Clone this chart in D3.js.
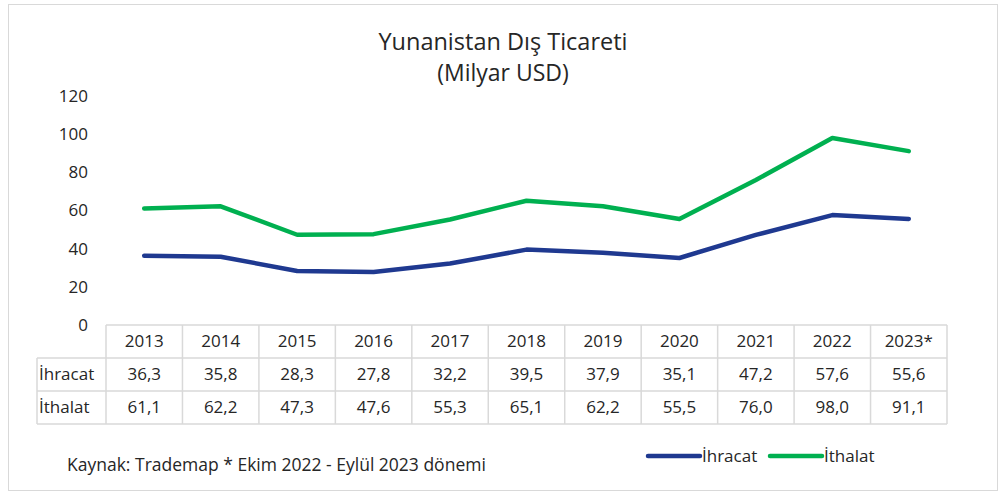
<!DOCTYPE html>
<html>
<head>
<meta charset="utf-8">
<script src="https://cdn.jsdelivr.net/npm/d3@7"></script>
<style>
  body { margin: 0; background: #fff; }
  text { font-family: "Open Sans", Lato, sans-serif; fill: #262626; }
</style>
</head>
<body>
<div id="chart"></div>
<script>
// data
var years = ['2013', '2014', '2015', '2016', '2017', '2018', '2019', '2020', '2021', '2022', '2023*'];
var ihracat = [36.3, 35.8, 28.3, 27.8, 32.2, 39.5, 37.9, 35.1, 47.2, 57.6, 55.6];
var ithalat = [61.1, 62.2, 47.3, 47.6, 55.3, 65.1, 62.2, 55.5, 76.0, 98.0, 91.1];
var yTicks = [0, 20, 40, 60, 80, 100, 120];
var seriesNames = ['İhracat', 'İthalat'];
var colors = ['#1f3990', '#00b050'];

var w = 1005, h = 493;
var svg = d3.select('#chart').append('svg')
  .attr('width', w)
  .attr('height', h);

// outer frame
svg.append('rect')
  .attr('x', 8.5).attr('y', 4.5)
  .attr('width', 989).attr('height', 486)
  .attr('fill', 'none')
  .attr('stroke', '#d9d9d9');

svg.append('text').attr('x', 503).attr('y', 50)
  .attr('text-anchor', 'middle').attr('font-size', '23.5px')
  .text('Yunanistan Dış Ticareti');
svg.append('text').attr('x', 503).attr('y', 81)
  .attr('text-anchor', 'middle').attr('font-size', '23px')
  .text('(Milyar USD)');

var x = d3.scaleBand().domain(years).range([106, 947]);
var y = d3.scaleLinear().domain([0, 120]).range([325, 96]);
var cx = function(d) { return x(d) + x.bandwidth() / 2; };

// y axis labels (no line, no gridlines)
svg.selectAll('.ytick')
  .data(yTicks)
  .enter()
  .append('text')
  .attr('class', 'ytick')
  .attr('x', 88)
  .attr('y', function(d) { return y(d); })
  .attr('dy', '0.35em')
  .attr('text-anchor', 'end')
  .attr('font-size', '17px')
  .text(function(d) { return d; });

// lines
var line = d3.line()
  .x(function(d, i) { return cx(years[i]); })
  .y(function(d) { return y(d); });

[ihracat, ithalat].forEach(function(s, i) {
  svg.append('path')
    .datum(s)
    .attr('d', line)
    .attr('fill', 'none')
    .attr('stroke', colors[i])
    .attr('stroke-width', 4.5)
    .attr('stroke-linejoin', 'round')
    .attr('stroke-linecap', 'round');
});

// data table
var rowTop = 325, rowH = 33, labelLeft = 37;
var grid = svg.append('g')
  .attr('stroke', '#d9d9d9')
  .attr('stroke-width', 1.5)
  .attr('fill', 'none');

// horizontal lines
[0, 1, 2, 3].forEach(function(r) {
  grid.append('line')
    .attr('x1', r === 0 ? x.range()[0] : labelLeft)
    .attr('x2', x.range()[1])
    .attr('y1', rowTop + r * rowH)
    .attr('y2', rowTop + r * rowH);
});
// vertical lines
years.concat(['end']).forEach(function(d, i) {
  var xx = i < years.length ? x(d) : x.range()[1];
  grid.append('line')
    .attr('x1', xx).attr('x2', xx)
    .attr('y1', rowTop).attr('y2', rowTop + 3 * rowH);
});
grid.append('line')
  .attr('x1', labelLeft).attr('x2', labelLeft)
  .attr('y1', rowTop + rowH).attr('y2', rowTop + 3 * rowH);

var fmt = function(v) { return v.toFixed(1).replace('.', ','); };
var rows = [years, ihracat.map(fmt), ithalat.map(fmt)];
rows.forEach(function(r, ri) {
  svg.selectAll('.cell' + ri)
    .data(r)
    .enter()
    .append('text')
    .attr('class', 'cell' + ri)
    .attr('x', function(d, i) { return cx(years[i]); })
    .attr('y', rowTop + ri * rowH + rowH / 2)
    .attr('dy', '0.35em')
    .attr('text-anchor', 'middle')
    .attr('font-size', '17px')
    .text(function(d) { return d; });
});
seriesNames.forEach(function(n, i) {
  svg.append('text')
    .attr('x', labelLeft + 2)
    .attr('y', rowTop + (i + 1) * rowH + rowH / 2)
    .attr('dy', '0.35em')
    .attr('font-size', '17px')
    .text(n);
});

// footer + legend
svg.append('text').attr('x', 67).attr('y', 471)
  .attr('font-size', '17.5px')
  .text('Kaynak: Trademap * Ekim 2022 - Eylül 2023 dönemi');

var legX = [648, 770];
seriesNames.forEach(function(n, i) {
  svg.append('line')
    .attr('x1', legX[i]).attr('x2', legX[i] + 52)
    .attr('y1', 456).attr('y2', 456)
    .attr('stroke', colors[i])
    .attr('stroke-width', 4.5)
    .attr('stroke-linecap', 'round');
  svg.append('text')
    .attr('x', legX[i] + 54)
    .attr('y', 456)
    .attr('dy', '0.35em')
    .attr('font-size', '17px')
    .text(n);
});
</script>
</body>
</html>
